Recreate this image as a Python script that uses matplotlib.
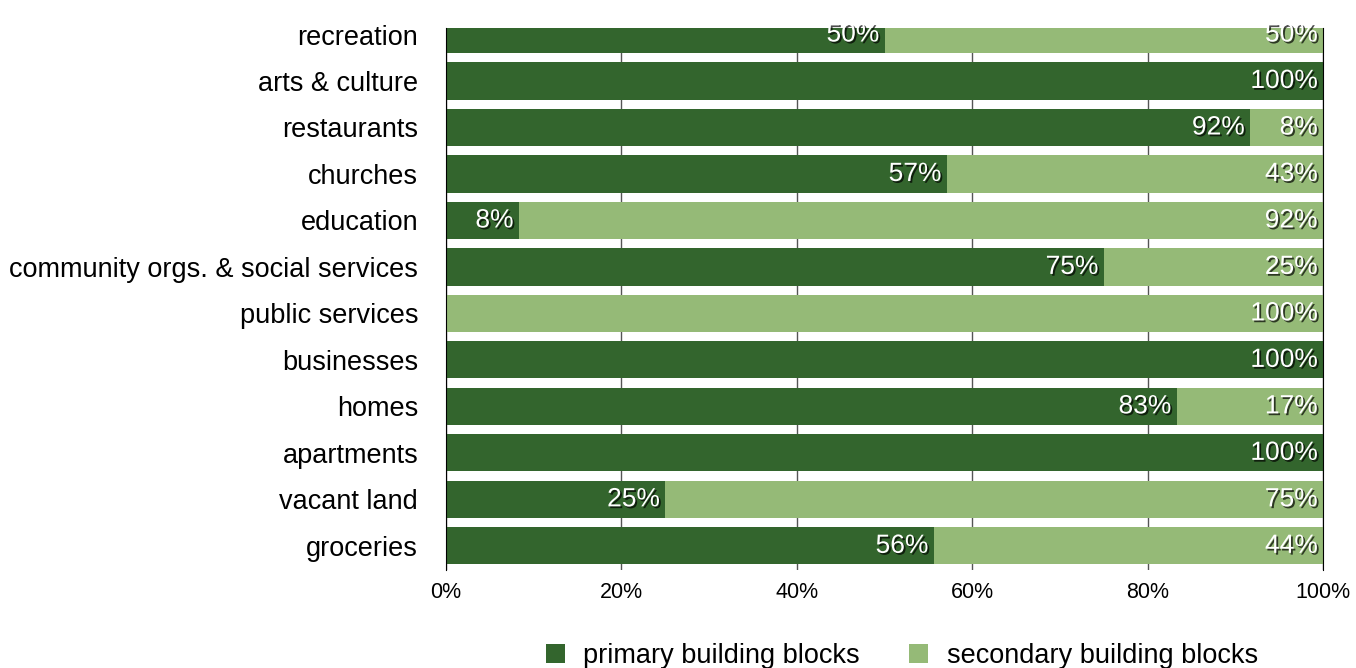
import matplotlib
matplotlib.use("Agg")
import matplotlib.pyplot as plt
import matplotlib.patheffects as pe
import numpy as np

plt.rcParams['font.family'] = ['Liberation Sans', 'DejaVu Sans']

# bottom to top
categories = ['groceries', 'vacant land', 'apartments', 'homes', 'businesses',
              'public services', 'community orgs. & social services', 'education',
              'churches', 'restaurants', 'arts & culture', 'recreation']
primary = [55.6, 25.0, 100.0, 83.3, 100.0, 0.0, 75.0, 8.3, 57.1, 91.7, 100.0, 50.0]
secondary = [44.4, 75.0, 0.0, 16.7, 0.0, 100.0, 25.0, 91.7, 42.9, 8.3, 0.0, 50.0]

dark = '#33652d'
light = '#95ba77'

fig = plt.figure(figsize=(13.56, 6.68), dpi=100)
ax = fig.add_axes([446/1356, 1-570/668, 877/1356, (570-28)/668])

y = np.arange(len(categories))
h = 0.8
b1 = ax.barh(y, primary, h, color=dark, label='primary building blocks', zorder=2)
b2 = ax.barh(y, secondary, h, left=primary, color=light, label='secondary building blocks', zorder=2)

shadow = [pe.SimplePatchShadow(offset=(1.3, -1.3), shadow_rgbFace='black', alpha=0.7), pe.Normal()]
for i in range(len(categories)):
    if primary[i] > 0:
        ax.text(primary[i] - 0.6, y[i], '%d%%' % round(primary[i]), ha='right', va='center',
                color='white', fontsize=19, path_effects=shadow, zorder=3)
    if secondary[i] > 0:
        ax.text(primary[i] + secondary[i] - 0.6, y[i], '%d%%' % round(secondary[i]), ha='right',
                va='center', color='white', fontsize=19, path_effects=shadow, zorder=3)

ax.set_xlim(0, 100)
ax.set_ylim(-0.52, 11.14)
ax.set_yticks(y)
ax.set_yticklabels(categories, fontsize=19.5)
ax.set_xticks([0, 20, 40, 60, 80, 100])
ax.set_xticklabels(['0%', '20%', '40%', '60%', '80%', '100%'], fontsize=15.5)
ax.tick_params(axis='y', length=0, pad=20)
ax.tick_params(axis='x', length=0, pad=9)
ax.xaxis.grid(True, color='#555555', linewidth=1, zorder=0)
ax.set_axisbelow(True)
ax.spines['top'].set_visible(False)
ax.spines['bottom'].set_visible(False)
ax.spines['left'].set_color('black')
ax.spines['right'].set_color('black')

fig.legend(handles=[b1, b2], loc='center', bbox_to_anchor=(0.665, 0.018), ncol=2,
           frameon=False, fontsize=19.5, handlelength=0.72, handleheight=0.72,
           columnspacing=1.8, handletextpad=0.68, borderpad=0)

fig.savefig('out.png', dpi=100)
